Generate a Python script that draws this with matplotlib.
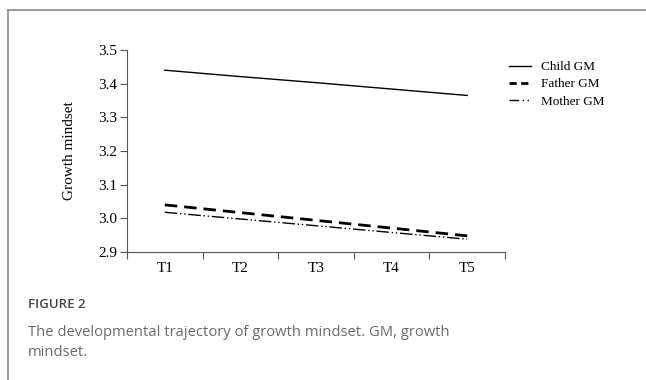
import numpy as np
import matplotlib
matplotlib.use("Agg")
import matplotlib.pyplot as plt
from matplotlib.lines import Line2D

plt.rcParams['font.family'] = ['Liberation Serif', 'DejaVu Serif']

waves = ["T1", "T2", "T3", "T4", "T5"]
child_gm = [3.440, 3.421, 3.403, 3.384, 3.365]
father_gm = [3.040, 3.017, 2.994, 2.971, 2.948]
mother_gm = [3.018, 2.998, 2.978, 2.958, 2.938]

fig = plt.figure(figsize=(6.46, 3.8), dpi=100)

# card border (top and left edges)
fig.add_artist(Line2D([8 / 646, 8 / 646], [0, 1 - 10 / 380], transform=fig.transFigure,
                      color='#8a8a8a', lw=1.2))
fig.add_artist(Line2D([8 / 646, 1], [1 - 10 / 380, 1 - 10 / 380], transform=fig.transFigure,
                      color='#8a8a8a', lw=1.2))

ax = fig.add_axes([127 / 646, 1 - 252 / 380, (505 - 127) / 646, (252 - 50) / 380])
x = np.arange(1, len(waves) + 1)

ax.plot(x, child_gm, color='black', lw=1.0)
ax.plot(x, father_gm, color='black', lw=2.0, linestyle=(0, (4.5, 2.5)))
ax.plot(x, mother_gm, color='black', lw=1.0, linestyle=(0, (9, 2, 1, 2, 1, 2)))

ax.set_xlim(0.5, len(waves) + 0.5)
ax.set_ylim(2.9, 3.5)
ax.set_yticks(np.arange(2.9, 3.51, 0.1))
ax.set_yticklabels([f"{v:.1f}" for v in np.arange(2.9, 3.51, 0.1)])
ax.set_xticks(x)
ax.set_xticklabels(waves)
ax.set_xticks(np.arange(0.5, len(waves) + 1, 1.0), minor=True)
ax.tick_params(axis='x', which='major', length=0, pad=7, labelsize=11)
ax.tick_params(axis='x', which='minor', length=5, width=0.8, color='#555555')
ax.tick_params(axis='y', length=5, width=0.8, color='#555555', labelsize=11, pad=2)

for side in ['top', 'right']:
    ax.spines[side].set_visible(False)
for side in ['left', 'bottom']:
    ax.spines[side].set_color('#555555')
    ax.spines[side].set_linewidth(0.8)

ax.set_ylabel("Growth mindset", fontsize=11, labelpad=16)

# legend handles with short patterns so they read like the original
handles = [
    Line2D([], [], color='black', lw=1.0),
    Line2D([], [], color='black', lw=2.0, linestyle=(0, (2.6, 1.6))),
    Line2D([], [], color='black', lw=1.0, linestyle=(0, (7, 2.5, 1, 2.5, 1, 2))),
]
ax.legend(handles, ['Child GM', 'Father GM', 'Mother GM'],
          loc='upper left', bbox_to_anchor=(509 / 646, 1 - 61 / 380), bbox_transform=fig.transFigure,
          frameon=False, fontsize=9.5, handlelength=1.7, handletextpad=0.7,
          labelspacing=0.38, borderaxespad=0, borderpad=0)

fig.text(28 / 646, 1 - 305 / 380, "FIGURE 2", family='Open Sans', fontsize=9.5,
         color='#454545', va='center', ha='left', weight='semibold')
fig.text(28 / 646, 1 - 333 / 380, "The developmental trajectory of growth mindset. GM, growth",
         family='Open Sans', fontsize=10.6, color='#6a6a6a', va='center', ha='left')
fig.text(28 / 646, 1 - 352 / 380, "mindset.",
         family='Open Sans', fontsize=10.6, color='#6a6a6a', va='center', ha='left')

fig.savefig("out.png", dpi=100)
